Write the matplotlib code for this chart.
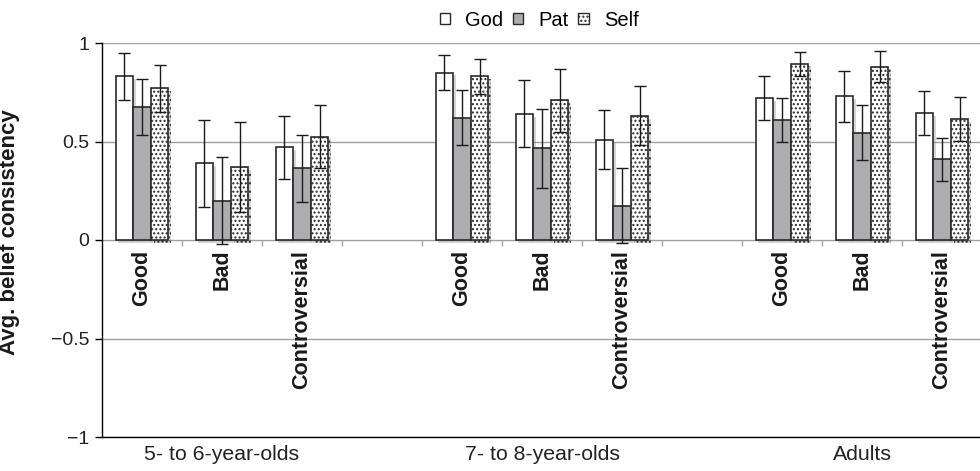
import numpy as np
import matplotlib
matplotlib.use('Agg')
import matplotlib.pyplot as plt
import matplotlib.patches as mpatches
import matplotlib.patheffects as pe

plt.rcParams['font.family'] = ['Liberation Sans', 'DejaVu Sans']
plt.rcParams['hatch.linewidth'] = 1.0

# data
groups = ["5- to 6-year-olds", "7- to 8-year-olds", "Adults"]
categories = ["Good", "Bad", "Controversial"]
series = ["God", "Pat", "Self"]

god_mean = [0.83, 0.39, 0.47, 0.85, 0.64, 0.51, 0.72, 0.73, 0.645]
pat_mean = [0.675, 0.20, 0.365, 0.62, 0.465, 0.175, 0.61, 0.545, 0.41]
self_mean = [0.77, 0.37, 0.525, 0.83, 0.71, 0.63, 0.895, 0.88, 0.615]

god_err = [0.12, 0.22, 0.16, 0.09, 0.17, 0.15, 0.11, 0.13, 0.11]
pat_err = [0.14, 0.22, 0.17, 0.14, 0.20, 0.19, 0.11, 0.14, 0.11]
self_err = [0.12, 0.23, 0.16, 0.09, 0.16, 0.15, 0.06, 0.08, 0.11]

means = [god_mean, pat_mean, self_mean]
errs = [god_err, pat_err, self_err]
faces = ['white', '#adadb0', 'white']
hatches = [None, None, '....']

# slot positions: 3 categories per group plus an empty slot between groups
slot_x = []
for g in range(len(groups)):
    for c in range(len(categories)):
        slot_x.append(g * 4 + c)
slot_x = np.array(slot_x)

fig = plt.figure(figsize=(9.8, 4.71), dpi=100)
ax = fig.add_axes([102 / 980, 1 - 437 / 471, 878 / 980, 394 / 471])

bw = 0.22
shadow = [pe.SimplePatchShadow(offset=(2, -2), shadow_rgbFace='#888888', alpha=0.35), pe.Normal()]
for i in range(3):
    xs = slot_x + (i - 1) * bw
    bars = ax.bar(xs, means[i], width=bw, color=faces[i], edgecolor='#2a2a2a',
                  linewidth=1.2, hatch=hatches[i], zorder=3)
    for b in bars:
        b.set_path_effects(shadow)
    ax.errorbar(xs, means[i], yerr=errs[i], fmt='none', ecolor='#1a1a1a',
                elinewidth=1.0, capsize=4, capthick=1.0, zorder=4)

ax.set_xlim(-0.5, -0.5 + 878 / 80)
ax.set_ylim(-1, 1)
ax.set_yticks([-1, -0.5, 0, 0.5, 1])
ax.set_yticklabels(['\u22121', '\u22120.5', '0', '0.5', '1'], fontsize=14, color='#222222')
ax.yaxis.grid(True, color='#a0a0a0', linewidth=1.0, zorder=0)
ax.set_axisbelow(True)
ax.tick_params(axis='y', length=5, width=1, color='black', pad=4)
ax.set_xticks([])
for s in ['top', 'right']:
    ax.spines[s].set_visible(False)
ax.spines['left'].set_linewidth(1.0)
ax.spines['bottom'].set_linewidth(1.0)

# category axis at zero with boundary ticks
bounds = np.arange(0.5, 11, 1.0)
ax.vlines(bounds, -0.028, 0, color='#a0a0a0', linewidth=1.0, zorder=2)

for k, x in enumerate(slot_x):
    ax.text(x, -0.05, categories[k % 3], rotation=90, ha='center', va='top',
            fontsize=15.5, fontweight='bold', color='#1a1a1a')

for g, name in enumerate(groups):
    ax.text(g * 4 + 1, -1.04, name, ha='center', va='top', fontsize=15.3, color='#222222')

ax.set_ylabel("Avg. belief consistency", fontsize=16, fontweight='bold', color='#1a1a1a')
ax.yaxis.set_label_coords(-0.093, 0.52)

handles = [mpatches.Patch(facecolor=faces[i], edgecolor='#2a2a2a', hatch=hatches[i],
                          linewidth=1.0, label=series[i]) for i in range(3)]
fig.legend(handles=handles, loc='center', bbox_to_anchor=(539 / 980, 1 - 20 / 471),
           ncol=3, frameon=False, fontsize=14.5, handlelength=0.5, handleheight=0.5,
           handletextpad=0.75, columnspacing=0.5)

fig.savefig('out.png', dpi=100)
